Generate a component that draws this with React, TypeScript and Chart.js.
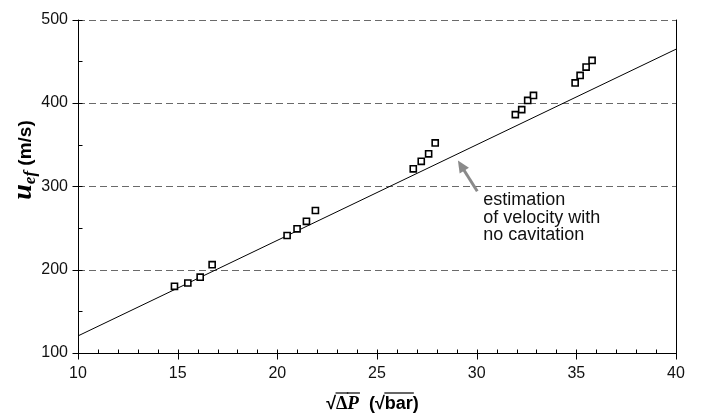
import React, { useEffect, useRef } from "react";
import { Chart, registerables } from "chart.js";

Chart.register(...registerables);

// ---- data ----
const sqrtDeltaP = [14.84, 15.51, 16.13, 16.73, 20.49, 20.99, 21.46, 21.91, 26.82, 27.22, 27.59, 27.92, 31.94, 32.26, 32.56, 32.85, 34.94, 35.19, 35.49, 35.79];
const uEf = [180, 184, 191, 206, 241, 249, 258, 271, 321, 330, 339, 352, 386, 392, 403, 409, 424, 433, 443, 451];
const lineX = [10, 40];
const lineY = [120.5, 464.5];
const xMin = 10, xMax = 40, xStep = 5;
const yMin = 100, yMax = 500, yStep = 100;
const gridValues = [200, 300, 400, 500];
const noteLines = ["estimation", "of velocity with", "no cavitation"];
const arrowFrom = { x: 30.03, y: 294 };
const arrowTo = { x: 29.06, y: 331 };
const noteAt = { x: 30.33, y: 277 };

const SANS = "'Liberation Sans', Arial, Helvetica, sans-serif";
const SERIF = "'Liberation Serif', 'Times New Roman', Times, serif";

const decorPlugin = {
  id: "decor",
  beforeDatasetsDraw(chart: any) {
    const ctx = chart.ctx;
    const ys = chart.scales.y;
    const { left, right } = chart.chartArea;
    ctx.save();
    ctx.strokeStyle = "#6a6a6a";
    ctx.lineWidth = 1;
    ctx.setLineDash([7, 4]);
    for (const v of gridValues) {
      const y = Math.round(ys.getPixelForValue(v)) + 0.5;
      ctx.beginPath();
      ctx.moveTo(left, y);
      ctx.lineTo(right, y);
      ctx.stroke();
    }
    ctx.restore();
  },
  afterDraw(chart: any) {
    const ctx = chart.ctx;
    const xs = chart.scales.x;
    const ys = chart.scales.y;
    const { left, right, top, bottom } = chart.chartArea;
    const L = Math.round(left) + 0.5;
    const R = Math.round(right) + 0.5;
    const B = Math.round(bottom) + 0.5;
    ctx.save();
    ctx.strokeStyle = "#000";
    ctx.lineWidth = 1;
    ctx.setLineDash([]);
    ctx.beginPath();
    ctx.moveTo(L, top);
    ctx.lineTo(L, B);
    ctx.lineTo(R, B);
    ctx.lineTo(R, top);
    ctx.stroke();
    // y ticks
    ctx.beginPath();
    for (let v = yMin; v <= yMax; v += yStep / 2) {
      const y = Math.round(ys.getPixelForValue(v)) + 0.5;
      if (v % yStep === 0) {
        ctx.moveTo(L - 6, y);
        ctx.lineTo(L + 4, y);
      } else {
        ctx.moveTo(L, y);
        ctx.lineTo(L + 4, y);
      }
    }
    // x ticks
    for (let v = xMin; v <= xMax; v += 1) {
      const x = Math.round(xs.getPixelForValue(v)) + 0.5;
      if (v % xStep === 0) {
        ctx.moveTo(x, B - 4);
        ctx.lineTo(x, B + 6);
      } else {
        ctx.moveTo(x, B);
        ctx.lineTo(x, B - 4);
      }
    }
    ctx.stroke();

    // annotation arrow
    const ax0 = xs.getPixelForValue(arrowFrom.x);
    const ay0 = ys.getPixelForValue(arrowFrom.y);
    const ax1 = xs.getPixelForValue(arrowTo.x);
    const ay1 = ys.getPixelForValue(arrowTo.y);
    const ang = Math.atan2(ay1 - ay0, ax1 - ax0);
    const headLen = 12, headW = 5.5;
    ctx.strokeStyle = "#8a8a8a";
    ctx.fillStyle = "#8a8a8a";
    ctx.lineWidth = 3;
    ctx.beginPath();
    ctx.moveTo(ax0, ay0);
    ctx.lineTo(ax1 - Math.cos(ang) * (headLen - 2), ay1 - Math.sin(ang) * (headLen - 2));
    ctx.stroke();
    ctx.beginPath();
    ctx.moveTo(ax1, ay1);
    ctx.lineTo(ax1 - Math.cos(ang) * headLen - Math.sin(ang) * headW, ay1 - Math.sin(ang) * headLen + Math.cos(ang) * headW);
    ctx.lineTo(ax1 - Math.cos(ang) * headLen + Math.sin(ang) * headW, ay1 - Math.sin(ang) * headLen - Math.cos(ang) * headW);
    ctx.closePath();
    ctx.fill();

    // annotation text
    ctx.fillStyle = "#111";
    ctx.font = `18px ${SANS}`;
    ctx.textAlign = "left";
    ctx.textBaseline = "alphabetic";
    const nx = xs.getPixelForValue(noteAt.x);
    const ny = ys.getPixelForValue(noteAt.y);
    noteLines.forEach((t, i) => ctx.fillText(t, nx, ny + i * 17.5));

    // x title: √ΔP (√bar)
    ctx.fillStyle = "#000";
    const fRad = `bold 18px ${SANS}`;
    const fD = `bold 18px ${SERIF}`;
    const fP = `bold italic 19px ${SERIF}`;
    const fBar = `bold 18px ${SANS}`;
    const parts: { t: string; f: string; over?: boolean }[] = [
      { t: "√", f: fRad },
      { t: "Δ", f: fD, over: true },
      { t: "P", f: fP, over: true },
      { t: "  (", f: fBar },
      { t: "√", f: fRad },
      { t: "bar", f: fBar, over: true },
      { t: ")", f: fBar },
    ];
    let total = 0;
    const widths = parts.map((p) => {
      ctx.font = p.f;
      const w = ctx.measureText(p.t).width;
      total += w;
      return w;
    });
    let cx = 372.5 - total / 2;
    const baseY = 409;
    parts.forEach((p, i) => {
      ctx.font = p.f;
      ctx.fillText(p.t, cx, baseY);
      if (p.over) {
        ctx.lineWidth = 1.2;
        ctx.strokeStyle = "#000";
        ctx.beginPath();
        ctx.moveTo(cx - 0.5, baseY - 16);
        ctx.lineTo(cx + widths[i] + 1, baseY - 16);
        ctx.stroke();
      }
      cx += widths[i];
    });

    // y title: u_ef (m/s)
    const yparts: { t: string; f: string; dy: number }[] = [
      { t: "u", f: `bold italic 28px ${SERIF}`, dy: 0 },
      { t: "ef", f: `bold italic 17px ${SERIF}`, dy: 4 },
      { t: " (m/s)", f: `bold 19px ${SANS}`, dy: 0 },
    ];
    let ytotal = 0;
    const yw = yparts.map((p) => {
      ctx.font = p.f;
      const w = ctx.measureText(p.t).width;
      ytotal += w;
      return w;
    });
    ctx.save();
    ctx.translate(31, 160);
    ctx.rotate(-Math.PI / 2);
    let px = -ytotal / 2;
    yparts.forEach((p, i) => {
      ctx.font = p.f;
      ctx.fillText(p.t, px, p.dy);
      px += yw[i];
    });
    ctx.restore();
    ctx.restore();
  },
};

export default function App() {
  const ref = useRef<HTMLCanvasElement | null>(null);
  useEffect(() => {
    if (!ref.current) return;
    Chart.defaults.font.family = SANS;
    const chart = new Chart(ref.current, {
      type: "scatter",
      data: {
        datasets: [
          {
            label: "measured",
            data: sqrtDeltaP.map((x, i) => ({ x, y: uEf[i] })),
            pointStyle: "rect",
            pointRadius: 4.3,
            pointBackgroundColor: "#fff",
            pointBorderColor: "#000",
            pointBorderWidth: 1.6,
            showLine: false,
            order: 0,
          },
          {
            label: "no cavitation",
            data: lineX.map((x, i) => ({ x, y: lineY[i] })),
            showLine: true,
            borderColor: "#000",
            borderWidth: 1,
            pointRadius: 0,
            fill: false,
            order: 1,
          },
        ],
      },
      options: {
        responsive: false,
        animation: false,
        events: [],
        layout: { padding: { top: 16, right: 25, left: 0, bottom: 0 } },
        plugins: { legend: { display: false }, tooltip: { enabled: false }, title: { display: false } },
        scales: {
          x: {
            type: "linear",
            min: xMin,
            max: xMax,
            grid: { display: false, drawTicks: false },
            border: { display: false },
            ticks: { stepSize: xStep, color: "#111", font: { size: 16 }, padding: 11, maxRotation: 0 },
            afterFit: (s: any) => {
              s.height = 63;
            },
          },
          y: {
            type: "linear",
            min: yMin,
            max: yMax,
            grid: { display: false, drawTicks: false },
            border: { display: false },
            ticks: { stepSize: yStep, color: "#111", font: { size: 16 }, padding: 10 },
            afterFit: (s: any) => {
              s.width = 78;
            },
          },
        },
      },
      plugins: [decorPlugin],
    });
    return () => chart.destroy();
  }, []);
  return (
    <div style={{ position: "absolute", left: 0, top: 0, width: 701, height: 416, background: "#fff" }}>
      <canvas ref={ref} width={701} height={416} />
    </div>
  );
}
